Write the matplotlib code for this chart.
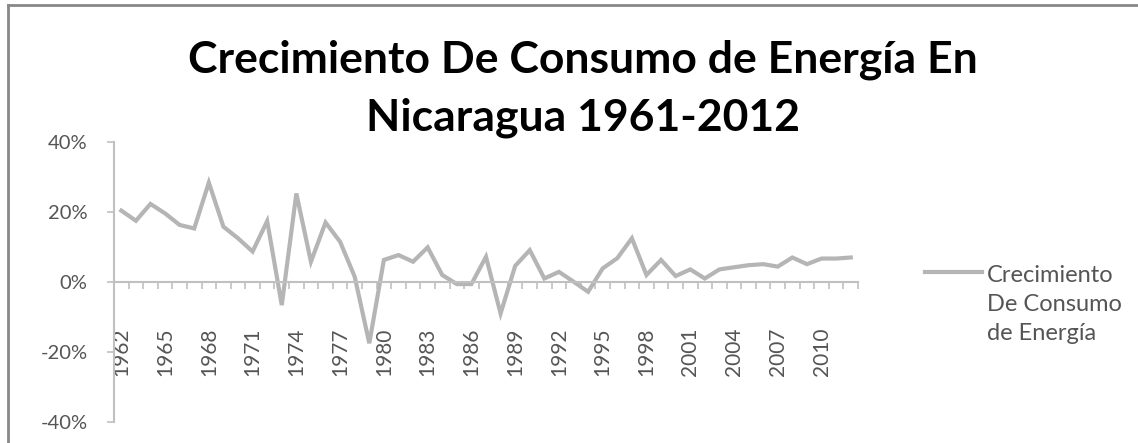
import matplotlib
matplotlib.use("Agg")
from matplotlib import pyplot as plt
from matplotlib.lines import Line2D
from matplotlib.ticker import FuncFormatter

years = list(range(1962, 2013))
crecimiento = [20.4, 17.5, 22.3, 19.6, 16.3, 15.3, 28.4, 15.8, 12.5, 8.7,
               17.4, -6.6, 25.3, 5.8, 17.0, 11.5, 1.5, -17.5, 6.3, 7.7,
               5.8, 9.9, 2.0, -0.6, -0.6, 7.2, -9.0, 4.6, 9.1, 1.0,
               2.9, 0.1, -2.8, 3.9, 6.8, 12.5, 2.0, 6.3, 1.7, 3.6,
               1.0, 3.6, 4.2, 4.8, 5.1, 4.4, 7.0, 5.1, 6.7, 6.7, 7.0]
y_ticks = [-40, -20, 0, 20, 40]
serie = ["Crecimiento", "De Consumo", "de Energía"]
titulo = ["Crecimiento De Consumo de Energía En", "Nicaragua 1961-2012"]

plt.rcParams['font.family'] = ['Lato', 'DejaVu Sans']

W, H = 1138, 443
fig = plt.figure(figsize=(W / 100, H / 100), dpi=100)
ax = fig.add_axes([114 / W, 1 - 422 / H, (858 - 114) / W, (422 - 142) / H])

x = list(range(len(years)))
ax.plot(x, crecimiento, color="#b5b5b5", lw=3, solid_joinstyle="miter")

ax.set_xlim(-0.5, len(years) - 0.5)
ax.set_ylim(-40, 40)
ax.set_yticks(y_ticks)
ax.yaxis.set_major_formatter(FuncFormatter(lambda v, p: "%d%%" % v))

ax.set_xticks(x[::3])
ax.set_xticklabels([str(y) for y in years[::3]])
ax.set_xticks([i - 0.5 for i in range(len(years) + 1)], minor=True)

for s in ["top", "right"]:
    ax.spines[s].set_visible(False)
ax.spines["bottom"].set_position(("data", 0))
for s in ["left", "bottom"]:
    ax.spines[s].set_color("#c0c0c0")
    ax.spines[s].set_linewidth(1.5)

ax.tick_params(axis="x", which="major", length=0, pad=33, labelsize=15,
               labelcolor="#555555", labelrotation=90)
ax.tick_params(axis="x", which="minor", length=5, width=1.2, color="#c0c0c0", direction="out")
ax.tick_params(axis="y", length=5, width=1.2, color="#c0c0c0", pad=14, labelsize=14.5,
               labelcolor="#555555")

# titulo, una linea a la vez
for linea, yb in zip(titulo, [73, 130]):
    fig.text(583 / W, 1 - yb / H, linea, ha="center", va="baseline", fontsize=32,
             fontweight="bold", color="black")

# leyenda
fig.add_artist(Line2D([925 / W, 982 / W], [1 - 272 / H, 1 - 272 / H], color="#b5b5b5", lw=3))
for linea, yb in zip(serie, [282, 311, 340]):
    fig.text(987 / W, 1 - yb / H, linea, ha="left", va="baseline", fontsize=17,
             color="#555555")

# marco
fig.add_artist(Line2D([8 / W, 8 / W], [0, 1 - 5 / H], color="#888888", lw=2))
fig.add_artist(Line2D([8 / W, 1], [1 - 5 / H, 1 - 5 / H], color="#888888", lw=2))

fig.savefig("out.png", dpi=100)
